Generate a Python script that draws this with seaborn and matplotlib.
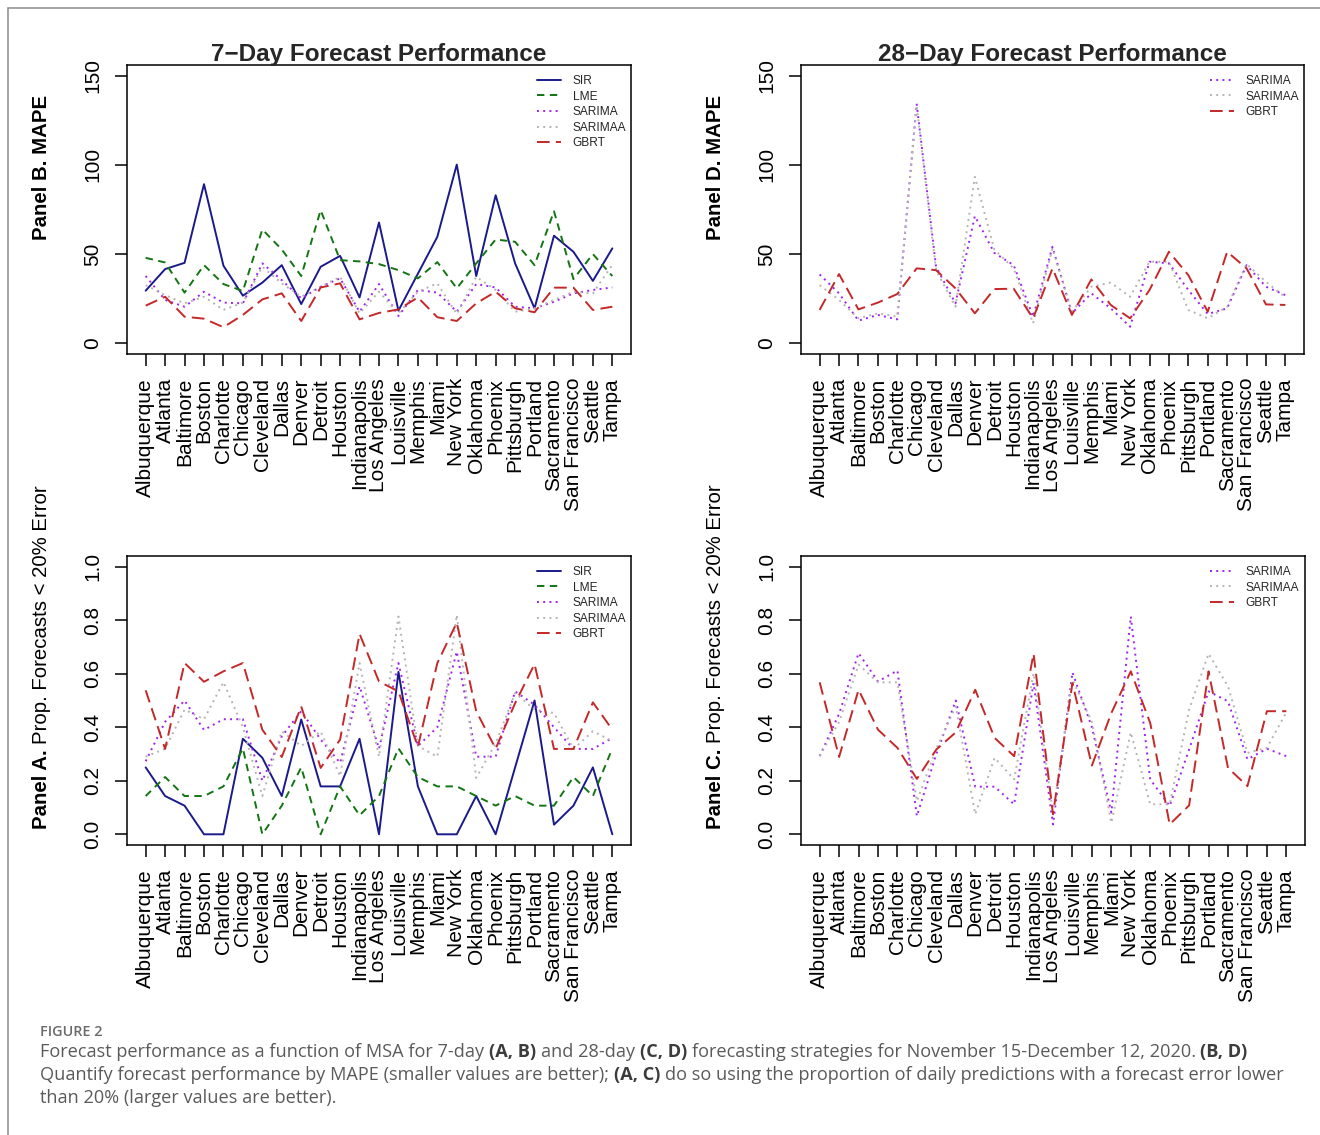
import matplotlib
matplotlib.use("Agg")
import matplotlib.pyplot as plt
from matplotlib.lines import Line2D
import numpy as np
import pandas as pd
import seaborn as sns

sns.set_style("ticks")
plt.rcParams["font.family"] = ["Liberation Sans", "DejaVu Sans"]

# ---------------------------------------------------------------- data
cities = ["Albuquerque", "Atlanta", "Baltimore", "Boston", "Charlotte", "Chicago",
          "Cleveland", "Dallas", "Denver", "Detroit", "Houston", "Indianapolis",
          "Los Angeles", "Louisville", "Memphis", "Miami", "New York", "Oklahoma",
          "Phoenix", "Pittsburgh", "Portland", "Sacramento", "San Francisco",
          "Seattle", "Tampa"]

# Panel B: 7-day MAPE
sir_mape7 = [29.5, 41.6, 45.1, 89.2, 43.5, 26.7, 34.0, 43.8, 22.0, 42.9, 49.0, 25.7, 67.7,
             18.3, 39.0, 59.7, 100.2, 37.7, 83.0, 44.8, 19.6, 60.3, 51.3, 35.0, 53.2]
lme_mape7 = [47.9, 45.3, 28.4, 43.8, 33.2, 29.3, 63.8, 52.6, 37.7, 74.6, 46.6, 45.9, 44.4,
             41.0, 36.4, 45.5, 30.8, 44.8, 58.2, 56.9, 43.8, 74.0, 36.0, 50.0, 37.7]
sarima_mape7 = [37.7, 24.3, 20.5, 28.9, 22.8, 22.4, 44.8, 35.4, 25.2, 31.7, 36.4, 17.7, 33.2,
                15.3, 29.9, 28.4, 17.7, 33.2, 31.3, 20.5, 19.6, 23.3, 28.0, 29.9, 31.3]
sarimaa_mape7 = [32.6, 27.0, 22.4, 26.1, 18.7, 22.8, 42.9, 33.6, 26.1, 31.7, 37.3, 16.8, 28.9,
                 16.8, 28.9, 33.6, 16.4, 37.3, 29.9, 17.7, 19.6, 24.3, 28.9, 28.0, 44.0]
gbrt_mape7 = [21.1, 26.1, 14.9, 13.8, 9.0, 15.9, 24.6, 28.0, 12.5, 31.3, 33.6, 13.4, 17.0,
              19.0, 25.7, 14.6, 12.5, 22.4, 28.9, 19.6, 17.4, 31.2, 31.2, 18.7, 20.5]

# Panel D: 28-day MAPE
sarima_mape28 = [38.6, 28.0, 12.7, 15.9, 13.4, 134.3, 42.9, 22.4, 71.3, 50.7, 43.8, 14.9, 54.1,
                 16.8, 28.0, 19.6, 9.3, 45.7, 44.8, 29.9, 16.4, 19.6, 43.8, 31.7, 27.0]
sarimaa_mape28 = [32.6, 24.3, 14.0, 16.8, 14.9, 133.4, 41.0, 20.5, 93.3, 52.6, 42.0, 11.2, 53.2,
                  17.7, 31.7, 34.0, 26.1, 45.7, 45.7, 18.7, 14.0, 20.5, 44.4, 34.5, 25.7]
gbrt_mape28 = [18.7, 38.8, 19.0, 22.8, 27.6, 42.0, 41.0, 30.8, 16.8, 30.4, 30.6, 14.0, 42.0,
               15.9, 35.8, 21.5, 14.0, 29.9, 51.3, 38.2, 17.7, 51.3, 42.0, 21.8, 21.5]

# Panel A: 7-day proportion of forecasts with < 20% error
sir_prop7 = [0.250, 0.143, 0.107, 0.0, 0.0, 0.357, 0.286, 0.143, 0.429, 0.179, 0.179, 0.357, 0.0,
             0.607, 0.179, 0.0, 0.0, 0.143, 0.0, 0.250, 0.500, 0.036, 0.107, 0.250, 0.0]
lme_prop7 = [0.143, 0.214, 0.143, 0.143, 0.179, 0.321, 0.0, 0.107, 0.250, 0.0, 0.179, 0.071, 0.143,
             0.321, 0.214, 0.179, 0.179, 0.143, 0.107, 0.143, 0.107, 0.107, 0.214, 0.143, 0.321]
sarima_prop7 = [0.273, 0.420, 0.500, 0.390, 0.430, 0.430, 0.200, 0.366, 0.460, 0.354, 0.267, 0.553,
                0.320, 0.640, 0.330, 0.400, 0.683, 0.290, 0.290, 0.534, 0.484, 0.400, 0.319, 0.319, 0.360]
sarimaa_prop7 = [0.290, 0.320, 0.466, 0.430, 0.569, 0.400, 0.143, 0.385, 0.330, 0.385, 0.217, 0.640,
                 0.290, 0.814, 0.330, 0.290, 0.820, 0.211, 0.340, 0.528, 0.466, 0.453, 0.319, 0.385, 0.348]
gbrt_prop7 = [0.538, 0.319, 0.640, 0.570, 0.609, 0.640, 0.391, 0.289, 0.478, 0.248, 0.354, 0.749,
              0.571, 0.534, 0.327, 0.640, 0.791, 0.460, 0.320, 0.490, 0.636, 0.319, 0.319, 0.493, 0.391]

# Panel C: 28-day proportion of forecasts with < 20% error
sarima_prop28 = [0.292, 0.450, 0.677, 0.571, 0.612, 0.068, 0.300, 0.500, 0.178, 0.178, 0.112, 0.565,
                 0.037, 0.605, 0.400, 0.081, 0.814, 0.205, 0.106, 0.317, 0.534, 0.497, 0.280, 0.320, 0.292]
sarimaa_prop28 = [0.292, 0.420, 0.634, 0.568, 0.568, 0.124, 0.320, 0.478, 0.075, 0.286, 0.205, 0.602,
                  0.081, 0.578, 0.420, 0.043, 0.381, 0.112, 0.112, 0.466, 0.675, 0.553, 0.304, 0.323, 0.456]
gbrt_prop28 = [0.568, 0.289, 0.540, 0.391, 0.323, 0.207, 0.317, 0.381, 0.540, 0.360, 0.292, 0.675,
               0.075, 0.565, 0.257, 0.453, 0.609, 0.416, 0.037, 0.108, 0.609, 0.248, 0.180, 0.460, 0.460]

mape_ticks = [0, 50, 100, 150]
prop_ticks = [0.0, 0.2, 0.4, 0.6, 0.8, 1.0]
prop_labels = ["0.0", "0.2", "0.4", "0.6", "0.8", "1.0"]

# ---------------------------------------------------------------- styles
LW = 1.4
STYLES = {
    "SIR":     dict(color="#1a1a8b", linestyle="-"),
    "LME":     dict(color="#127512", linestyle=(0, (3.8, 2.8))),
    "SARIMA":  dict(color="#A020F0", linestyle=(0, (1, 2.2))),
    "SARIMAA": dict(color="#B4B4B4", linestyle=(0, (1, 2.2))),
    "GBRT":    dict(color="#C42828", linestyle=(0, (6.5, 3.2))),
}

W, H = 1320, 1135
fig = plt.figure(figsize=(W / 100, H / 100), dpi=100)
fig.patch.set_facecolor("white")


def px_axes(left, top, right, bottom):
    return fig.add_axes([left / W, 1 - bottom / H, (right - left) / W, (bottom - top) / H])


pos = np.arange(len(cities))


def draw_panel(ax, series, ylim, yticks, ylabels, legend_xy):
    for name, vals in series:
        df = pd.DataFrame({"pos": pos, "value": vals})
        sns.lineplot(data=df, x="pos", y="value", ax=ax, lw=LW, label=name,
                     sort=False, errorbar=None, **STYLES[name])
    ax.set_xlim(-0.96, len(cities) - 1 + 0.96)
    ax.set_ylim(*ylim)
    ax.set_xlabel("")
    ax.set_ylabel("")
    ax.set_xticks(pos)
    ax.set_xticklabels(cities, rotation=90, fontsize=15)
    ax.set_yticks(yticks)
    ax.set_yticklabels(ylabels, rotation=90, va="center", fontsize=15)
    ax.tick_params(axis="both", length=8.6, width=1.1, color="black", labelcolor="black")
    ax.tick_params(axis="x", pad=8.6)
    ax.tick_params(axis="y", pad=9.0)
    for sp in ax.spines.values():
        sp.set_visible(True)
        sp.set_color("black")
        sp.set_linewidth(1.1)
    handles, labels = ax.get_legend_handles_labels()
    lx, ly = legend_xy
    ax.legend(handles, labels, loc="upper left",
              bbox_to_anchor=(lx / W, 1 - ly / H), bbox_transform=fig.transFigure,
              frameon=False, fontsize=8.6, handlelength=2.0, handletextpad=1.0,
              labelspacing=0.3, borderpad=0, borderaxespad=0)


axB = px_axes(127, 65, 631, 354)
draw_panel(axB, [("SIR", sir_mape7), ("LME", lme_mape7), ("SARIMA", sarima_mape7),
                 ("SARIMAA", sarimaa_mape7), ("GBRT", gbrt_mape7)],
           (-6, 156), mape_ticks, [str(t) for t in mape_ticks], (537, 75))

axD = px_axes(801, 65, 1304, 354)
draw_panel(axD, [("SARIMA", sarima_mape28), ("SARIMAA", sarimaa_mape28), ("GBRT", gbrt_mape28)],
           (-6, 156), mape_ticks, [str(t) for t in mape_ticks], (1210, 75))

axA = px_axes(127, 556, 631, 845)
draw_panel(axA, [("SIR", sir_prop7), ("LME", lme_prop7), ("SARIMA", sarima_prop7),
                 ("SARIMAA", sarimaa_prop7), ("GBRT", gbrt_prop7)],
           (-0.04, 1.04), prop_ticks, prop_labels, (537, 566))

axC = px_axes(801, 556, 1305, 845)
draw_panel(axC, [("SARIMA", sarima_prop28), ("SARIMAA", sarimaa_prop28), ("GBRT", gbrt_prop28)],
           (-0.04, 1.04), prop_ticks, prop_labels, (1210, 566))

# titles
fig.text(379 / W, 1 - 61 / H, "7\u2212Day Forecast Performance", ha="center", va="baseline",
         fontsize=17.5, fontweight="bold")
fig.text(1052 / W, 1 - 61 / H, "28\u2212Day Forecast Performance", ha="center", va="baseline",
         fontsize=17.5, fontweight="bold")

# ---------------------------------------------------------------- mixed-weight text
renderer = fig.canvas.get_renderer()


def run_width(s, size, weight, family):
    t = fig.text(0, 0, "|" + s + "|", fontsize=size, fontweight=weight, family=family)
    w1 = t.get_window_extent(renderer).width
    t.remove()
    t = fig.text(0, 0, "||", fontsize=size, fontweight=weight, family=family)
    w2 = t.get_window_extent(renderer).width
    t.remove()
    return w1 - w2


def text_runs(x, y, runs, size, family, rotation=0, center=False):
    """Draw (text, weight, color) runs one after another starting at pixel (x, y from top)."""
    widths = [run_width(s, size, wt, family) for s, wt, _ in runs]
    total = sum(widths)
    d = np.array([np.cos(np.radians(rotation)), np.sin(np.radians(rotation))])
    start = np.array([x, H - y], dtype=float)
    if center:
        start = start - d * total / 2
    offset = 0.0
    for (s, wt, col), w in zip(runs, widths):
        lead = len(s) - len(s.lstrip(" "))
        body = s.strip(" ")
        if body:
            lw_ = run_width(s[:lead], size, wt, family) if lead else 0.0
            p = start + d * (offset + lw_)
            fig.text(p[0] / W, p[1] / H, body, fontsize=size, fontweight=wt, family=family,
                     color=col, rotation=rotation, rotation_mode="anchor",
                     ha="left", va="baseline")
        offset += w


LAB = ["Liberation Sans", "DejaVu Sans"]
text_runs(47, 167, [("Panel B. MAPE", "bold", "black")], 14.7, LAB, rotation=90, center=True)
text_runs(721, 167, [("Panel D. MAPE", "bold", "black")], 14.7, LAB, rotation=90, center=True)
text_runs(47, 657, [("Panel A.", "bold", "black"),
                    (" Prop. Forecasts < 20% Error", "normal", "black")],
          14.7, LAB, rotation=90, center=True)
text_runs(721, 657, [("Panel C.", "bold", "black"),
                     (" Prop. Forecasts < 20% Error", "normal", "black")],
          14.7, LAB, rotation=90, center=True)

# ---------------------------------------------------------------- caption
CAP = ["Open Sans", "DejaVu Sans"]
TXT = "#5a5a5a"
BLD = "#3c3c3c"
CAP_SIZE = 13.1
fig.text(40 / W, 1 - 1036 / H, "FIGURE 2", fontsize=10.4, fontweight="semibold",
         family=CAP, color="#6a6a6a", ha="left", va="baseline")
text_runs(40, 1057, [("Forecast performance as a function of MSA for 7-day ", "normal", TXT),
                     ("(A, B)", "bold", BLD),
                     (" and 28-day ", "normal", TXT),
                     ("(C, D)", "bold", BLD),
                     (" forecasting strategies for November 15-December 12, 2020. ", "normal", TXT),
                     ("(B, D)", "bold", BLD)], CAP_SIZE, CAP)
text_runs(40, 1080, [("Quantify forecast performance by MAPE (smaller values are better); ", "normal", TXT),
                     ("(A, C)", "bold", BLD),
                     (" do so using the proportion of daily predictions with a forecast error lower",
                      "normal", TXT)], CAP_SIZE, CAP)
text_runs(40, 1103, [("than 20% (larger values are better).", "normal", TXT)], CAP_SIZE, CAP)

# page frame
fig.add_artist(Line2D([8 / W, 1.0], [1 - 8 / H, 1 - 8 / H], transform=fig.transFigure,
                      color="#8c8c8c", lw=1.1))
fig.add_artist(Line2D([8 / W, 8 / W], [1 - 8 / H, 0.0], transform=fig.transFigure,
                      color="#8c8c8c", lw=1.1))

fig.savefig("out.png", dpi=100, facecolor="white")
